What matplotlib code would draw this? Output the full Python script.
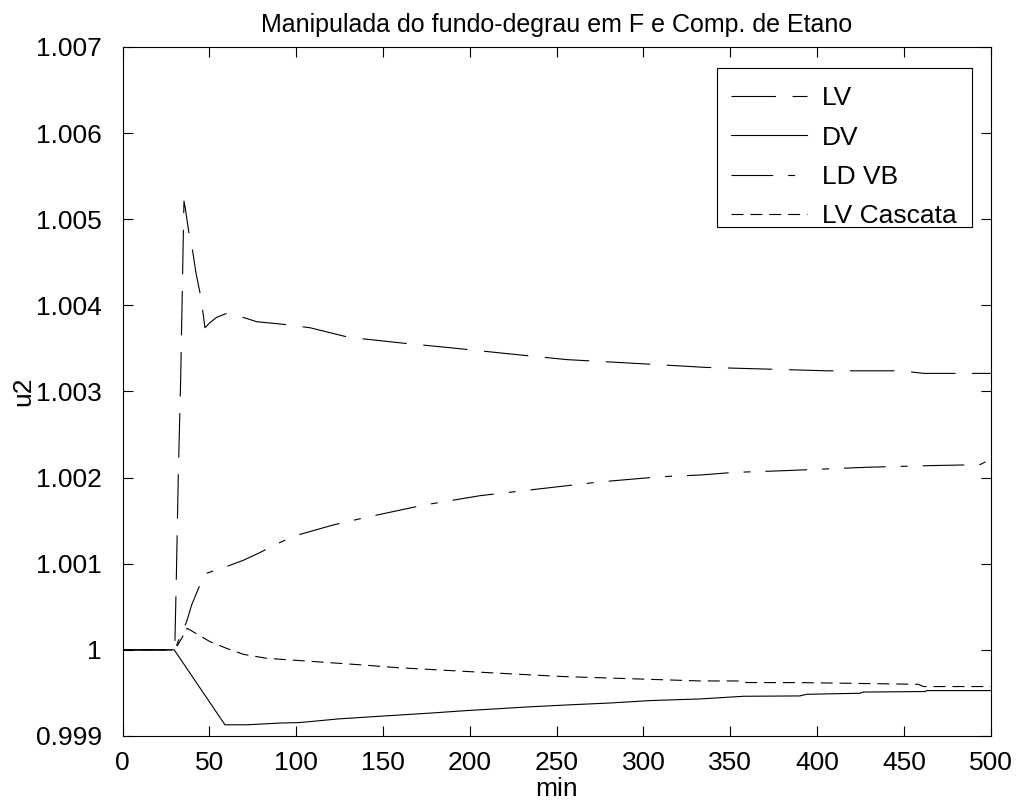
import matplotlib
matplotlib.use("Agg")
import matplotlib.pyplot as plt
from matplotlib.patches import Rectangle

plt.rcParams['font.family'] = ['Liberation Sans', 'DejaVu Sans']
plt.rcParams['lines.scale_dashes'] = False

# LV
t_lv = [0, 30, 30.9, 32.0, 33.4, 35.3, 35.9, 38.4, 40.3, 42.2, 44.9, 46.1, 47.4, 50.3, 54.1,
        60.3, 69.5, 77.2, 92.5, 107.9, 130, 162, 187.6, 221.2, 255.8, 300.9, 335.4, 371,
        405.5, 447.8, 461.6, 500]
u_lv = [1.0, 1.0, 1.00083, 1.00199, 1.00314, 1.00521, 1.00515, 1.00481, 1.00463, 1.00438,
        1.00411, 1.00394, 1.00374, 1.0038, 1.00386, 1.00391, 1.00386, 1.00381, 1.00378,
        1.00374, 1.00363, 1.00356, 1.00351, 1.00344, 1.00337, 1.00332, 1.00328, 1.00326,
        1.00324, 1.00324, 1.00321, 1.00321]

# DV
t_dv = [0, 29.7, 58.9, 71.4, 90.6, 102.1, 124.2, 142.5, 160.7, 178.9, 198.2, 214.3, 232.7,
        255.8, 281.7, 303.7, 332.6, 357.5, 390, 394, 424.7, 426.6, 462.2, 463.1, 500]
u_dv = [1.0, 1.0, 0.99913, 0.99913, 0.99915, 0.999156, 0.999198, 0.999222, 0.999245,
        0.999268, 0.999295, 0.999314, 0.999337, 0.99936, 0.999384, 0.999411, 0.99943,
        0.999461, 0.999465, 0.999484, 0.999496, 0.99951, 0.999516, 0.999527, 0.999527]

# LD VB
t_ld = [0, 30, 32, 36.9, 39.7, 43.6, 46.4, 48.4, 58.9, 69.5, 79.1, 88.7, 100.2, 121.3, 140.6,
        173.2, 205.8, 240.4, 275, 309.5, 332.6, 351.7, 380.5, 428.6, 466.9, 493.8, 496.7, 500]
u_ld = [1.0, 1.0, 1.0001, 1.00033, 1.00052, 1.00071, 1.00083, 1.00089, 1.00096, 1.00104,
        1.00113, 1.00123, 1.00133, 1.00145, 1.00154, 1.00168, 1.00179, 1.00187, 1.00195,
        1.00201, 1.00203, 1.00206, 1.00208, 1.00212, 1.00214, 1.00215, 1.00218, 1.00218]

# LV Cascata
t_lc = [0, 30, 33, 37.2, 50.3, 59.9, 69.5, 82.9, 106, 138.6, 157.8, 200, 225, 253.8, 332.6,
        357.5, 359.4, 390, 458.3, 461.2, 500]
u_lc = [1.0, 1.0, 1.0001, 1.00025, 1.000095, 1.000017, 0.999948, 0.999902, 0.99987,
        0.999824, 0.999794, 0.999747, 0.99972, 0.99969, 0.999639, 0.999639, 0.99962,
        0.99962, 0.9996, 0.999574, 0.999574]

x_ticks = [0, 50, 100, 150, 200, 250, 300, 350, 400, 450, 500]
y_ticks = [0.999, 1.0, 1.001, 1.002, 1.003, 1.004, 1.005, 1.006, 1.007]
y_labels = ['0.999', '1', '1.001', '1.002', '1.003', '1.004', '1.005', '1.006', '1.007']

fig = plt.figure(figsize=(10.18, 8.07), dpi=100)
ax = fig.add_axes([0.1205, 0.088, 0.8527, 0.8538])

lw = 0.8
ax.plot(t_lv, u_lv, color='k', lw=lw, dashes=(32, 12), label='LV')
ax.plot(t_dv, u_dv, color='k', lw=lw, label='DV')
ax.plot(t_ld, u_ld, color='k', lw=lw, dashes=(30, 10.8, 5, 10.8), label='LD VB')
ax.plot(t_lc, u_lc, color='k', lw=lw, dashes=(8.6, 5), label='LV Cascata')

ax.set_xlim(0, 500)
ax.set_ylim(0.999, 1.007)
ax.set_xticks(x_ticks)
ax.set_yticks(y_ticks)
ax.set_yticklabels(y_labels)
ax.tick_params(direction='in', length=7, width=0.8, top=True, right=True, labelsize=19)
ax.tick_params(axis='x', pad=11)
ax.tick_params(axis='y', pad=15)
for s in ax.spines.values():
    s.set_linewidth(0.8)

ax.set_title('Manipulada do fundo-degrau em F e Comp. de Etano', fontsize=18, pad=11)
ax.set_xlabel('min', fontsize=19, labelpad=1)
ax.set_ylabel('u2', fontsize=19, labelpad=0)

# legend box like MATLAB's (text sits lower in the box)
ax.add_patch(Rectangle((0.6847, 0.7393), 0.2938, 0.2307, transform=ax.transAxes,
                       facecolor='white', edgecolor='k', lw=0.8, zorder=4.9))
ax.legend(loc='upper right', fontsize=19, handlelength=2.9, labelspacing=0.58,
          frameon=False, borderaxespad=0.7, handletextpad=0.55, borderpad=0.6,
          bbox_to_anchor=(1, 0.9926))

fig.savefig('out.png', dpi=100)
